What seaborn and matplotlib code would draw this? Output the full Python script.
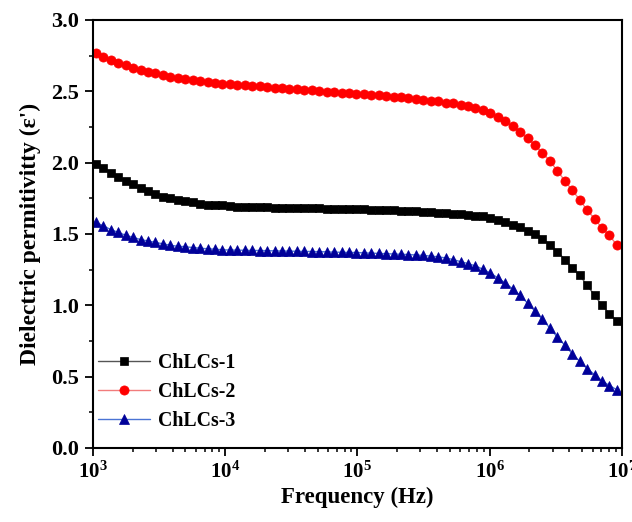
import numpy as np
import seaborn as sns
import matplotlib.pyplot as plt
from matplotlib.ticker import FixedLocator, LogLocator, MultipleLocator, NullFormatter

# Frequency sweep (Hz), log spaced, 71 points
freq = np.logspace(3.023, 6.962, 71)

chlcs1 = [1.99, 1.96, 1.93, 1.90, 1.87, 1.85, 1.82, 1.80, 1.78, 1.76,
          1.75, 1.74, 1.73, 1.72, 1.71, 1.705, 1.70, 1.70, 1.695, 1.69,
          1.69, 1.688, 1.686, 1.685, 1.684, 1.683, 1.682, 1.681, 1.68, 1.679,
          1.678, 1.677, 1.676, 1.675, 1.674, 1.673, 1.671, 1.67, 1.668, 1.666,
          1.664, 1.662, 1.66, 1.657, 1.654, 1.651, 1.648, 1.645, 1.641, 1.637,
          1.633, 1.628, 1.622, 1.613, 1.60, 1.58, 1.56, 1.545, 1.52, 1.50,
          1.465, 1.425, 1.376, 1.32, 1.26, 1.21, 1.14, 1.07, 1.00, 0.94,
          0.89]

chlcs2 = [2.771, 2.743, 2.72, 2.70, 2.68, 2.663, 2.65, 2.636, 2.624, 2.612,
          2.60, 2.59, 2.584, 2.577, 2.57, 2.565, 2.56, 2.553, 2.55, 2.545,
          2.541, 2.537, 2.533, 2.529, 2.525, 2.521, 2.517, 2.513, 2.509, 2.505,
          2.501, 2.497, 2.493, 2.489, 2.485, 2.481, 2.478, 2.474, 2.47, 2.466,
          2.461, 2.457, 2.45, 2.446, 2.44, 2.433, 2.428, 2.42, 2.414, 2.405,
          2.395, 2.383, 2.366, 2.345, 2.318, 2.288, 2.253, 2.212, 2.17, 2.12,
          2.068, 2.01, 1.943, 1.872, 1.806, 1.74, 1.666, 1.607, 1.54, 1.49,
          1.42]

chlcs3 = [1.58, 1.556, 1.53, 1.51, 1.49, 1.475, 1.46, 1.45, 1.44, 1.43,
          1.42, 1.413, 1.41, 1.404, 1.40, 1.395, 1.393, 1.388, 1.387, 1.386,
          1.385, 1.384, 1.383, 1.382, 1.381, 1.38, 1.379, 1.378, 1.377, 1.376,
          1.375, 1.374, 1.372, 1.371, 1.37, 1.369, 1.367, 1.365, 1.363, 1.361,
          1.359, 1.357, 1.355, 1.352, 1.349, 1.344, 1.339, 1.331, 1.32, 1.305,
          1.292, 1.275, 1.252, 1.225, 1.192, 1.156, 1.115, 1.068, 1.014, 0.958,
          0.90, 0.84, 0.776, 0.72, 0.66, 0.607, 0.555, 0.514, 0.47, 0.437,
          0.407]

xticks = [1e3, 1e4, 1e5, 1e6, 1e7]
xticklabels = [r"$\mathbf{10^{3}}$", r"$\mathbf{10^{4}}$", r"$\mathbf{10^{5}}$",
               r"$\mathbf{10^{6}}$", r"$\mathbf{10^{7}}$"]

sns.set_theme(style="ticks")
plt.rcParams["font.family"] = ["Liberation Serif", "DejaVu Serif"]
plt.rcParams["font.weight"] = "bold"
plt.rcParams["text.color"] = "black"
plt.rcParams["axes.labelcolor"] = "black"
plt.rcParams["xtick.color"] = "black"
plt.rcParams["ytick.color"] = "black"
plt.rcParams["mathtext.fontset"] = "custom"
plt.rcParams["mathtext.rm"] = "Liberation Serif:bold"
plt.rcParams["mathtext.bf"] = "Liberation Serif:bold"
plt.rcParams["mathtext.it"] = "Liberation Serif:bold:italic"

fig, ax = plt.subplots(figsize=(6.32, 5.22), dpi=100)
fig.subplots_adjust(left=0.147, right=0.984, bottom=0.142, top=0.962)

# series: line colour, marker colour, marker
series = [("ChLCs-1", chlcs1, "#555555", "black", "s", 6.3),
          ("ChLCs-2", chlcs2, "#f27c7c", "#ff0000", "o", 6.6),
          ("ChLCs-3", chlcs3, "#4a74d4", "#000099", "^", 7.3)]

for name, vals, lc, mc, mk, ms in series:
    sns.lineplot(x=freq, y=vals, ax=ax, color=lc, linewidth=1.0,
                 marker=mk, markersize=ms, markerfacecolor=mc,
                 markeredgecolor=mc, markeredgewidth=0.5, label=name)

ax.set_xscale("log")
ax.set_xlim(1e3, 1e7)
ax.set_ylim(0, 3.0)

ax.xaxis.set_major_locator(FixedLocator(xticks))
ax.set_xticklabels(xticklabels)
ax.xaxis.set_minor_locator(LogLocator(base=10, subs=np.arange(2, 10)))
ax.xaxis.set_minor_formatter(NullFormatter())
ax.yaxis.set_major_locator(MultipleLocator(0.5))
ax.yaxis.set_minor_locator(MultipleLocator(0.25))
ax.yaxis.set_major_formatter(plt.FuncFormatter(lambda v, p: f"{v:.1f}"))

ax.tick_params(axis="both", which="major", direction="out", length=5.5, width=1.3,
               colors="black", top=False, right=False, pad=4.5)
ax.tick_params(axis="x", which="major", labelsize=15)
ax.tick_params(axis="y", which="major", labelsize=16)
ax.tick_params(axis="both", which="minor", direction="out", length=3.2, width=1.1,
               top=False, right=False)
for lab in ax.get_yticklabels():
    lab.set_fontweight("bold")

for sp in ax.spines.values():
    sp.set_linewidth(1.5)
    sp.set_color("black")
    sp.set_visible(True)

ax.set_xlabel("Frequency (Hz)", fontsize=16.5, fontweight="bold", labelpad=3)
ax.set_ylabel("Dielectric permitivitty (\u03b5')", fontsize=17, fontweight="bold", labelpad=7)

leg = ax.legend(loc="lower left", bbox_to_anchor=(-0.012, 0.012), frameon=False,
                fontsize=14.3, handlelength=2.6, handletextpad=0.4, labelspacing=0.46,
                borderaxespad=0.2)
for t in leg.get_texts():
    t.set_fontweight("bold")

fig.savefig("out.png", dpi=100)
